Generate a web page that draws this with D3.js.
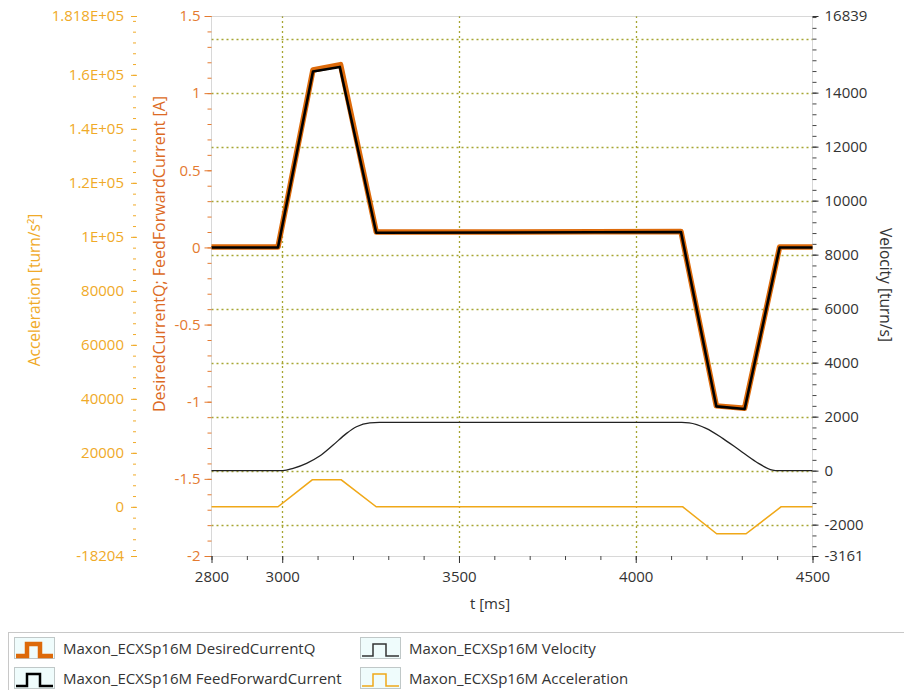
<!DOCTYPE html>
<html>
<head>
<meta charset="utf-8">
<script src="https://cdn.jsdelivr.net/npm/d3@7/dist/d3.min.js"></script>
<style>
  html, body { margin: 0; padding: 0; background: #fff; }
  svg text { font-family: "Open Sans", "Noto Sans", sans-serif; }
</style>
</head>
<body>
<svg id="chart" width="904" height="690"></svg>
<script>
// ---------------- data ----------------
const timeDomain = [2800, 4500];
const xTickValues = [2800, 3000, 3500, 4000, 4500];
const xMinorTicks = d3.range(2800, 4501, 100);

const currentDomain = [-2, 1.5];
const currentTickValues = [1.5, 1, 0.5, 0, -0.5, -1, -1.5, -2];
const currentTickLabels = ["1.5", "1", "0.5", "0", "-0.5", "-1", "-1.5", "-2"];

const velocityDomain = [-3161, 16839];
const velocityTickValues = [16839, 14000, 12000, 10000, 8000, 6000, 4000, 2000, 0, -2000, -3161];
const velocityTickLabels = ["16839", "14000", "12000", "10000", "8000", "6000", "4000", "2000", "0", "-2000", "-3161"];
const velocityGridValues = [16000, 14000, 12000, 10000, 8000, 6000, 4000, 2000, 0, -2000];

const accelDomain = [-18204, 181800];
const accelTickValues = [181800, 160000, 140000, 120000, 100000, 80000, 60000, 40000, 20000, 0, -18204];
const accelTickLabels = ["1.818E+05", "1.6E+05", "1.4E+05", "1.2E+05", "1E+05", "80000", "60000", "40000", "20000", "0", "-18204"];

// FeedForwardCurrent [A]
const ffTime    = [2800, 2988, 3087, 3163, 3266, 4128, 4228, 4308, 4407, 4500];
const ffCurrent = [0, 0, 1.14, 1.17, 0.095, 0.10, -1.03, -1.047, 0, 0];
// DesiredCurrentQ [A]
const dqTime    = [2800, 2988, 3087, 3165, 3266, 3600, 4128, 4228, 4308, 4407, 4500];
const dqCurrent = [0.003, 0.003, 1.15, 1.185, 0.1, 0.1, 0.103, -1.027, -1.042, 0.003, 0.003];
// Velocity [turn/s]
const velTime  = [2800, 3002, 3031, 3069, 3106, 3144, 3182, 3210, 3248, 3275, 4130, 4151, 4199, 4246, 4293, 4340, 4387, 4402, 4500];
const velValue = [0, 0, 85, 270, 540, 948, 1381, 1626, 1770, 1785, 1785, 1770, 1567, 1196, 763, 330, 22, 0, 0];
// Acceleration [turn/s^2]
const accTime  = [2800, 2988, 3085, 3167, 3266, 4133, 4229, 4312, 4411, 4500];
const accValue = [0, 0, 10000, 10000, 0, 0, -10000, -10000, 0, 0];

const legendItems = [
  { name: "Maxon_ECXSp16M DesiredCurrentQ", color: "#dd6a0a", width: 4.5, col: 0, row: 0 },
  { name: "Maxon_ECXSp16M FeedForwardCurrent", color: "#000000", width: 2.5, col: 0, row: 1 },
  { name: "Maxon_ECXSp16M Velocity", color: "#333333", width: 1.5, col: 1, row: 0 },
  { name: "Maxon_ECXSp16M Acceleration", color: "#f0a818", width: 1.5, col: 1, row: 1 }
];

// ---------------- layout ----------------
const L = 211.5, R = 812.5, T = 16, B = 556;
const svg = d3.select("#chart");

const x = d3.scaleLinear().domain(timeDomain).range([L, R]);
const yCur = d3.scaleLinear().domain(currentDomain).range([B, T]);
const yVel = d3.scaleLinear().domain(velocityDomain).range([B, T]);
const yAcc = d3.scaleLinear().domain(accelDomain).range([B, T]);

const gridColor = "#a6a632";
const curColor = "#e47a30";
const accColor = "#f0aa28";
const txtColor = "#333333";
const FS = "15px";

// grid
const grid = svg.append("g");
grid.selectAll("line.h").data(velocityGridValues).join("line")
  .attr("x1", L).attr("x2", R)
  .attr("y1", d => Math.round(yVel(d)) + 0.5).attr("y2", d => Math.round(yVel(d)) + 0.5)
  .attr("stroke", gridColor).attr("stroke-width", 1.3).attr("stroke-dasharray", "2,3");
grid.selectAll("line.v").data([3000, 3500, 4000]).join("line")
  .attr("x1", d => Math.round(x(d)) + 0.5).attr("x2", d => Math.round(x(d)) + 0.5)
  .attr("y1", T).attr("y2", B)
  .attr("stroke", gridColor).attr("stroke-width", 1.3).attr("stroke-dasharray", "2,3");

// plot border (dotted)
svg.append("rect").attr("x", L).attr("y", T + 0.5).attr("width", R - L).attr("height", B - T)
  .attr("fill", "none").attr("stroke", "#b0b0b0").attr("stroke-dasharray", "1,1");

// series
const line = (xs, ys, yScale, curve) => d3.line()
  .x((d, i) => x(xs[i])).y((d, i) => yScale(ys[i])).curve(curve || d3.curveLinear)(ys);

svg.append("path").attr("d", line(accTime, accValue, yAcc))
  .attr("fill", "none").attr("stroke", "#f0a818").attr("stroke-width", 1.5);
svg.append("path").attr("d", line(velTime, velValue, yVel, d3.curveMonotoneX))
  .attr("fill", "none").attr("stroke", "#222").attr("stroke-width", 1.3);
svg.append("path").attr("d", line(dqTime, dqCurrent, yCur))
  .attr("fill", "none").attr("stroke", "#dd6a0a").attr("stroke-width", 5.5).attr("stroke-linejoin", "round");
svg.append("path").attr("d", line(ffTime, ffCurrent, yCur))
  .attr("fill", "none").attr("stroke", "#000").attr("stroke-width", 2.6).attr("stroke-linejoin", "round");

// ---------------- axes ----------------
function styleAxis(g, color) {
  g.select(".domain").remove();
  g.selectAll("line").attr("stroke", color);
  g.selectAll("text").attr("fill", color).style("font-size", FS);
}

// current axis (left of plot)
const curMinor = svg.append("g").attr("transform", `translate(${L},0)`)
  .call(d3.axisLeft(yCur).tickValues(d3.range(-20, 16, 1).map(d => d / 10)).tickSize(4).tickFormat(""));
styleAxis(curMinor, curColor);
const curAxis = svg.append("g").attr("transform", `translate(${L},0)`)
  .call(d3.axisLeft(yCur).tickValues(currentTickValues).tickSize(7).tickPadding(4)
    .tickFormat((d, i) => currentTickLabels[i]));
styleAxis(curAxis, curColor);

// acceleration axis (far left)
const accX = 137;
const accMinor = svg.append("g").attr("transform", `translate(${accX},0)`)
  .call(d3.axisLeft(yAcc).tickValues(d3.range(-16000, 181801, 4000)).tickSize(4).tickFormat(""));
styleAxis(accMinor, accColor);
accMinor.selectAll("line").attr("x1", -1);
const accAxis = svg.append("g").attr("transform", `translate(${accX},0)`)
  .call(d3.axisLeft(yAcc).tickValues(accelTickValues).tickSize(6).tickPadding(7)
    .tickFormat((d, i) => accelTickLabels[i]));
styleAxis(accAxis, accColor);

// velocity axis (right)
const velMinor = svg.append("g").attr("transform", `translate(${R},0)`)
  .call(d3.axisRight(yVel).tickValues(d3.range(-2800, 16839, 400)).tickSize(4).tickFormat(""));
styleAxis(velMinor, "#444");
const velAxis = svg.append("g").attr("transform", `translate(${R},0)`)
  .call(d3.axisRight(yVel).tickValues(velocityTickValues).tickSize(6).tickPadding(6)
    .tickFormat((d, i) => velocityTickLabels[i]));
styleAxis(velAxis, txtColor);

// x axis
const xMinor = svg.append("g").attr("transform", `translate(0,${B})`)
  .call(d3.axisBottom(x).tickValues(xMinorTicks).tickSize(4).tickFormat(""));
styleAxis(xMinor, "#444");
const xAxis = svg.append("g").attr("transform", `translate(0,${B})`)
  .call(d3.axisBottom(x).tickValues(xTickValues).tickSize(7).tickPadding(8).tickFormat(d3.format("d")));
styleAxis(xAxis, txtColor);

// axis titles
svg.append("text").attr("transform", "translate(40,290) rotate(-90)")
  .attr("text-anchor", "middle").attr("fill", accColor).style("font-size", "15.5px")
  .text("Acceleration [turn/s²]");
svg.append("text").attr("transform", "translate(165,254) rotate(-90)")
  .attr("text-anchor", "middle").attr("fill", "#dc6a24").style("font-size", "16px")
  .text("DesiredCurrentQ; FeedForwardCurrent [A]");
svg.append("text").attr("transform", "translate(880,285) rotate(90)")
  .attr("text-anchor", "middle").attr("fill", txtColor).style("font-size", "15.5px")
  .text("Velocity [turn/s]");
svg.append("text").attr("x", 490).attr("y", 609)
  .attr("text-anchor", "middle").attr("fill", txtColor).style("font-size", "15px")
  .text("t [ms]");

// ---------------- legend ----------------
svg.append("rect").attr("x", 8.5).attr("y", 632.5).attr("width", 905).attr("height", 70)
  .attr("fill", "#fff").attr("stroke", "#c8c8c8");
const colX = [14, 360], rowY = [637, 667];
const leg = svg.append("g").selectAll("g").data(legendItems).join("g")
  .attr("transform", d => `translate(${colX[d.col]},${rowY[d.row]})`);
leg.append("rect").attr("x", 0.5).attr("y", 0.5).attr("width", 40).attr("height", 21)
  .attr("fill", "#effcfc").attr("stroke", "#c0c8c8");
leg.append("path")
  .attr("d", "M2,19 L13,19 L13,7 L26,7 L26,19 L39,19")
  .attr("fill", "none").attr("stroke", d => d.color).attr("stroke-width", d => d.width);
leg.append("text").attr("x", 49).attr("y", 16.5).attr("fill", txtColor).style("font-size", "15px")
  .text(d => d.name);
</script>
</body>
</html>
